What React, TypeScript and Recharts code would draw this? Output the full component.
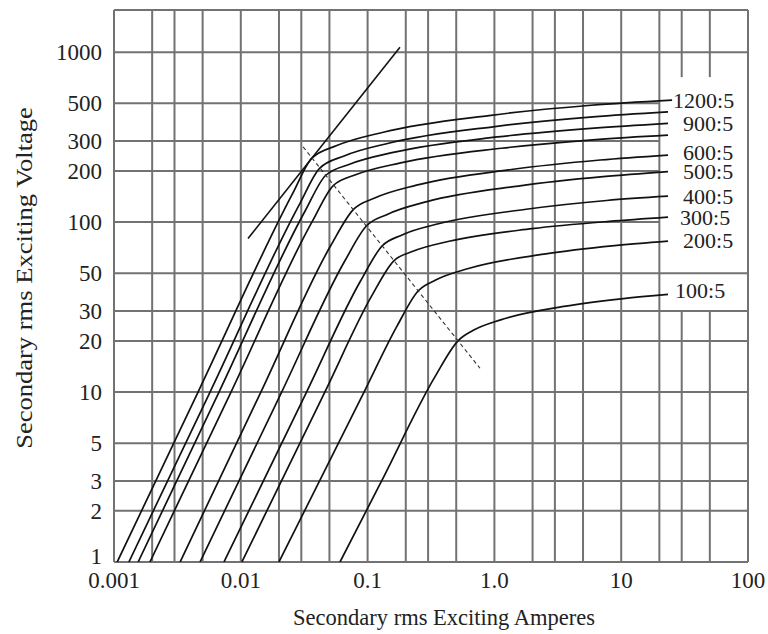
import { LineChart, Line, XAxis, YAxis, ReferenceLine, Label } from "recharts";

type Pt = { i: number; v: number };

// exciting curves of a multi-ratio CT (i = amperes, v = volts)
const ratio1200: Pt[] = [
  { i: 0.00106, v: 1 }, { i: 0.0046, v: 10 }, { i: 0.0256, v: 147 }, { i: 0.0362, v: 237 },
  { i: 0.0572, v: 282 }, { i: 0.133, v: 338 }, { i: 0.94, v: 425 }, { i: 5.8, v: 487 }, { i: 25.2, v: 522 },
];
const ratio1000: Pt[] = [
  { i: 0.00131, v: 1 }, { i: 0.00572, v: 10 }, { i: 0.0293, v: 129 }, { i: 0.0418, v: 207 },
  { i: 0.0653, v: 245 }, { i: 0.149, v: 292 }, { i: 1.01, v: 365 }, { i: 5.98, v: 416 }, { i: 23.4, v: 445 },
];
const ratio900: Pt[] = [
  { i: 0.00155, v: 1 }, { i: 0.00673, v: 10 }, { i: 0.0323, v: 117 }, { i: 0.0466, v: 188 },
  { i: 0.0721, v: 219 }, { i: 0.163, v: 258 }, { i: 1.06, v: 317 }, { i: 6.12, v: 357 }, { i: 23.4, v: 381 },
];
const ratio800: Pt[] = [
  { i: 0.00192, v: 1 }, { i: 0.00837, v: 10 }, { i: 0.0369, v: 102 }, { i: 0.0536, v: 164 },
  { i: 0.0823, v: 191 }, { i: 0.182, v: 223 }, { i: 1.14, v: 272 }, { i: 6.32, v: 306 }, { i: 23.4, v: 325 },
];
const ratio600: Pt[] = [
  { i: 0.00332, v: 1 }, { i: 0.0144, v: 10 }, { i: 0.0515, v: 73.3 }, { i: 0.0767, v: 118 },
  { i: 0.115, v: 139 }, { i: 0.243, v: 165 }, { i: 1.36, v: 204 }, { i: 6.84, v: 232 }, { i: 23.4, v: 248 },
];
const ratio500: Pt[] = [
  { i: 0.00477, v: 1 }, { i: 0.021, v: 10 }, { i: 0.0659, v: 58.8 }, { i: 0.0973, v: 94.5 },
  { i: 0.143, v: 111 }, { i: 0.294, v: 132 }, { i: 1.54, v: 163 }, { i: 7.2, v: 185 }, { i: 23.4, v: 198 },
];
const ratio400: Pt[] = [
  { i: 0.00737, v: 1 }, { i: 0.033, v: 10 }, { i: 0.0879, v: 45 }, { i: 0.13, v: 72.3 },
  { i: 0.187, v: 84 }, { i: 0.369, v: 98.1 }, { i: 1.78, v: 119 }, { i: 7.67, v: 134 }, { i: 23.4, v: 142 },
];
const ratio300: Pt[] = [
  { i: 0.0102, v: 1 }, { i: 0.046, v: 10 }, { i: 0.108, v: 36.9 }, { i: 0.161, v: 59.2 },
  { i: 0.228, v: 67.3 }, { i: 0.439, v: 77.1 }, { i: 1.98, v: 91.5 }, { i: 8.04, v: 101 }, { i: 23.4, v: 107 },
];
const ratio200: Pt[] = [
  { i: 0.02, v: 1 }, { i: 0.0937, v: 10 }, { i: 0.171, v: 24.5 }, { i: 0.25, v: 39.3 },
  { i: 0.344, v: 45.6 }, { i: 0.624, v: 53.3 }, { i: 2.46, v: 64.8 }, { i: 8.87, v: 72.7 }, { i: 23.4, v: 77.3 },
];
const ratio100: Pt[] = [
  { i: 0.0606, v: 1 }, { i: 0.129, v: 3 }, { i: 0.342, v: 12.4 }, { i: 0.516, v: 20 },
  { i: 0.676, v: 23 }, { i: 1.12, v: 26.6 }, { i: 3.54, v: 31.9 }, { i: 10.4, v: 35.5 }, { i: 23.4, v: 37.6 },
];

// 45 degree tangent line and the knee-point locus
const tangentLine: Pt[] = [{ i: 0.0114, v: 80 }, { i: 0.18, v: 1070 }];
const kneeLine: Pt[] = [{ i: 0.031, v: 277 }, { i: 0.77, v: 13.8 }];

const xTicks = [0.001, 0.01, 0.1, 1, 10, 100];
const xTickLabels = ["0.001", "0.01", "0.1", "1.0", "10", "100"];
const yTicks = [1, 2, 3, 5, 10, 20, 30, 50, 100, 200, 300, 500, 1000];
const xGrid = [0.001, 0.002, 0.003, 0.005, 0.01, 0.02, 0.03, 0.05, 0.1, 0.2, 0.3, 0.5, 1, 2, 3, 5, 10, 20, 30, 50, 100];
const yTop = 1770;

const curves = [
  { name: "1200:5", data: ratio1200 },
  { name: "1000:5", data: ratio1000 },
  { name: "900:5", data: ratio900 },
  { name: "800:5", data: ratio800 },
  { name: "600:5", data: ratio600 },
  { name: "500:5", data: ratio500 },
  { name: "400:5", data: ratio400 },
  { name: "300:5", data: ratio300 },
  { name: "200:5", data: ratio200 },
  { name: "100:5", data: ratio100 },
];

// which curves carry a label, and how far the text sits from the line end
const labelOffsets: Record<string, { dx: number; dy: number }> = {
  "1200:5": { dx: 1, dy: 0 },
  "900:5": { dx: 15, dy: 0 },
  "600:5": { dx: 15, dy: -3 },
  "500:5": { dx: 15, dy: 0 },
  "400:5": { dx: 15, dy: 0 },
  "300:5": { dx: 12, dy: 0 },
  "200:5": { dx: 15, dy: -1 },
  "100:5": { dx: 7, dy: -4 },
};

const font = "'Liberation Serif', 'DejaVu Serif', serif";
const gridColor = "#727272";
const textColor = "#222";

// the label column on the right hides part of the grid
const boxLeft = 20;
const boxBottom = 30;
const boxTop = 713;

function endLabel(name: string, count: number) {
  const off = labelOffsets[name];
  return (props: any) => {
    if (!off || props.index !== count - 1) return null;
    const x = props.x ?? props.viewBox?.x;
    const y = props.y ?? props.viewBox?.y;
    return (
      <text x={x + off.dx} y={y + off.dy} dy="0.35em" fontSize={22} fontFamily={font} fill={textColor}>
        {name}
      </text>
    );
  };
}

// y tick labels; the bottom "1" sits a little above its line
function YTick(props: any) {
  const { x, y, payload } = props;
  const lift = payload.value === 1 ? -6 : 0;
  return (
    <text x={x} y={y + lift} dy="0.35em" textAnchor="end" fontSize={23} fontFamily={font} fill={textColor}>
      {payload.value}
    </text>
  );
}

export default function App() {
  const gridLines: JSX.Element[] = [];
  xGrid.forEach((x) => {
    const parts = x > boxLeft && x < 100 ? [[1, boxBottom], [boxTop, yTop]] : [[1, yTop]];
    parts.forEach(([a, b], k) =>
      gridLines.push(
        <ReferenceLine key={`vx${x}-${k}`} segment={[{ x, y: a }, { x, y: b }]} stroke={gridColor} strokeWidth={2} ifOverflow="visible" />
      )
    );
  });
  [...yTicks, yTop].forEach((y) => {
    const right = [100, 200, 300, 500].includes(y) ? boxLeft : 100;
    gridLines.push(
      <ReferenceLine key={`hy${y}`} segment={[{ x: 0.001, y }, { x: right, y }]} stroke={gridColor} strokeWidth={2} ifOverflow="visible" />
    );
  });

  return (
    <div style={{ position: "absolute", left: 0, top: 0, background: "#fff" }}>
      <LineChart width={768} height={634} margin={{ top: 10, right: 20, bottom: 12, left: 14 }}>
        <XAxis
          dataKey="i"
          type="number"
          scale="log"
          domain={[0.001, 100]}
          allowDataOverflow
          ticks={xTicks}
          interval={0}
          tickFormatter={(v: number) => xTickLabels[xTicks.indexOf(v)] ?? ""}
          axisLine={false}
          tickLine={false}
          tickMargin={4}
          height={60}
          tick={{ fontSize: 23, fill: textColor, fontFamily: font }}
        >
          <Label
            content={() => (
              <text x={444} y={625} textAnchor="middle" fontSize={22.5} fontFamily={font} fill={textColor}>
                Secondary rms Exciting Amperes
              </text>
            )}
          />
        </XAxis>
        <YAxis
          dataKey="v"
          type="number"
          scale="log"
          domain={[1, yTop]}
          allowDataOverflow
          ticks={yTicks}
          interval={0}
          axisLine={false}
          tickLine={false}
          tickMargin={6}
          width={100}
          tick={<YTick />}
        >
          <Label
            content={() => (
              <text
                x={0}
                y={0}
                transform="translate(32 278) rotate(-90) scale(1.18 1)"
                textAnchor="middle"
                fontSize={22.5}
                fontFamily={font}
                fill={textColor}
              >
                Secondary rms Exciting Voltage
              </text>
            )}
          />
        </YAxis>
        {gridLines}
        {curves.map((c) => (
          <Line
            key={c.name}
            data={c.data}
            dataKey="v"
            type="monotone"
            stroke="#111"
            strokeWidth={1.7}
            dot={false}
            isAnimationActive={false}
            label={endLabel(c.name, c.data.length)}
          />
        ))}
        <Line data={tangentLine} dataKey="v" type="linear" stroke="#111" strokeWidth={1.6} dot={false} isAnimationActive={false} />
        <Line data={kneeLine} dataKey="v" type="linear" stroke="#333" strokeWidth={1.1} strokeDasharray="4 3" dot={false} isAnimationActive={false} />
      </LineChart>
    </div>
  );
}
